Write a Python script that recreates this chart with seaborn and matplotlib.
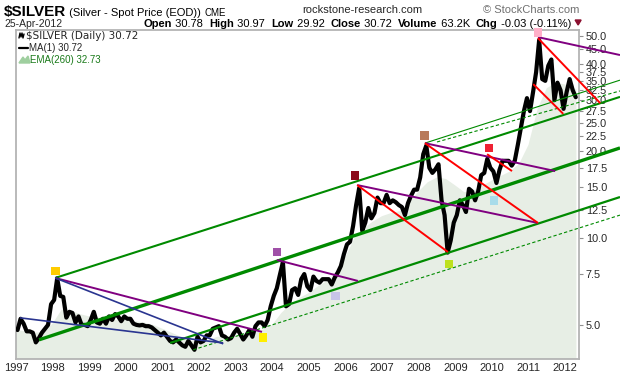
import numpy as np
import pandas as pd
import seaborn as sns
import matplotlib.pyplot as plt
from matplotlib.lines import Line2D
from matplotlib.patches import Polygon

# --- $SILVER monthly closes (Jan 1997 .. Apr 2012) ---
px_1997 = [4.80, 5.25, 5.05, 4.75, 4.75, 4.70, 4.35, 4.50, 4.70, 4.85, 5.00, 5.90]
px_1998 = [6.10, 7.25, 6.30, 6.25, 5.30, 5.55, 5.50, 5.10, 5.35, 5.00, 5.00, 4.95]
px_1999 = [5.20, 5.55, 5.10, 5.05, 5.25, 5.05, 5.35, 5.20, 5.45, 5.35, 5.15, 5.35]
px_2000 = [5.25, 5.25, 5.05, 5.00, 4.98, 5.00, 4.95, 4.95, 4.90, 4.80, 4.70, 4.60]
px_2001 = [4.70, 4.55, 4.40, 4.35, 4.45, 4.35, 4.25, 4.20, 4.40, 4.25, 4.10, 4.55]
px_2002 = [4.35, 4.40, 4.60, 4.60, 4.85, 4.90, 4.95, 4.60, 4.55, 4.45, 4.50, 4.70]
px_2003 = [4.85, 4.65, 4.45, 4.60, 4.80, 4.55, 4.95, 5.10, 5.10, 4.95, 5.20, 5.80]
px_2004 = [6.30, 6.70, 7.45, 8.25, 5.80, 5.90, 6.60, 6.70, 6.35, 7.20, 7.50, 6.80]
px_2005 = [6.60, 7.35, 7.10, 7.00, 7.20, 7.20, 7.20, 6.90, 7.30, 7.60, 8.00, 8.80]
px_2006 = [9.50, 9.70, 11.00, 13.00, 14.90, 10.60, 11.30, 12.70, 11.70, 12.20, 13.80, 13.20]
px_2007 = [13.20, 14.10, 13.20, 13.50, 13.30, 13.00, 12.80, 12.00, 13.20, 14.00, 14.70, 14.70]
px_2008 = [16.20, 19.50, 20.90, 17.50, 16.80, 17.30, 18.00, 13.50, 12.00, 8.90, 9.80, 11.30]
px_2009 = [12.00, 13.50, 13.00, 12.30, 14.80, 14.50, 13.50, 14.50, 16.50, 16.80, 18.80, 17.50]
px_2010 = [17.00, 15.50, 17.20, 18.50, 18.50, 18.50, 17.80, 18.50, 21.00, 24.00, 27.50, 30.50]
px_2011 = [27.50, 32.00, 37.50, 48.50, 35.50, 35.00, 39.50, 41.50, 30.00, 34.50, 32.50, 28.00]
px_2012 = [32.00, 35.50, 32.50, 30.72]

# EMA(260) shaded area, read quarterly
ema_years = [1997.00, 1997.25, 1997.50, 1997.75, 1998.00, 1998.25, 1998.50, 1998.75,
             1999.00, 1999.25, 1999.50, 1999.75, 2000.00, 2000.25, 2000.50, 2000.75,
             2001.00, 2001.25, 2001.50, 2001.75, 2002.00, 2002.25, 2002.50, 2002.75,
             2003.00, 2003.25, 2003.50, 2003.75, 2004.00, 2004.25, 2004.50, 2004.75,
             2005.00, 2005.25, 2005.50, 2005.75, 2006.00, 2006.25, 2006.50, 2006.75,
             2007.00, 2007.25, 2007.50, 2007.75, 2008.00, 2008.25, 2008.50, 2008.75,
             2009.00, 2009.25, 2009.50, 2009.75, 2010.00, 2010.25, 2010.50, 2010.75,
             2011.00, 2011.25, 2011.50, 2011.75, 2012.00, 2012.31]
ema_values = [4.80, 4.75, 4.70, 4.72, 5.05, 5.65, 5.60, 5.45,
              5.35, 5.30, 5.25, 5.20, 5.20, 5.15, 5.10, 5.00,
              4.85, 4.70, 4.55, 4.40, 4.38, 4.42, 4.55, 4.58,
              4.58, 4.60, 4.68, 4.82, 5.00, 5.50, 5.90, 6.20,
              6.45, 6.80, 7.10, 7.50, 8.60, 10.00, 10.80, 11.40,
              11.90, 12.20, 12.40, 13.30, 14.50, 15.60, 16.20, 16.00,
              15.20, 14.40, 14.60, 15.20, 15.80, 16.40, 17.00, 18.10,
              21.00, 28.00, 33.00, 34.50, 34.00, 32.73]

# trend lines drawn by the analyst: (year, price) endpoints
chan_upper = [(1998.07, 7.27), (2013.50, 30.8)]
chan_mid = [(1997.63, 4.44), (2013.50, 20.5)]
chan_low = [(2001.21, 4.33), (2013.50, 13.86)]
chan_low_dash = [(2001.84, 4.10), (2013.50, 12.0)]
thin_2008 = [(2008.17, 21.3), (2013.50, 35.2)]
thin_2008_dash = [(2008.50, 21.5), (2013.50, 32.3)]

purple_lines = [
    [(1998.07, 7.27), (2003.72, 4.73)],
    [(2004.13, 8.39), (2006.34, 7.10)],
    [(2006.32, 15.25), (2011.26, 11.27)],
    [(2008.17, 21.3), (2011.73, 17.05)],
    [(2011.26, 49.6), (2013.50, 43.0)],
]
red_lines = [
    [(2006.32, 15.25), (2008.80, 8.94)],
    [(2008.17, 21.3), (2011.26, 11.27)],
    [(2009.87, 19.5), (2010.55, 17.05)],
    [(2011.26, 49.2), (2012.96, 29.3)],
    [(2011.13, 34.1), (2011.95, 26.9)],
]
blue_lines = [
    [(1997.11, 5.29), (2002.66, 4.33)],
    [(1998.07, 7.27), (2002.66, 4.30)],
]

marker_years = [1998.07, 2003.75, 2004.13, 2005.72, 2006.26, 2008.15, 2008.83, 2009.92, 2010.06, 2011.26]
marker_prices = [7.69, 4.51, 8.94, 6.30, 16.5, 22.7, 8.13, 20.5, 13.5, 51.6]
marker_colors = ['#ffcc00', '#ffee00', '#a050a8', '#c8c4e8', '#8b0a1a',
                 '#b87a5a', '#bde01e', '#ee2233', '#a8dcea', '#ffb0c8']

year_ticks = list(range(1997, 2013))
price_ticks = [5.0, 7.5, 10.0, 12.5, 15.0, 17.5, 20.0, 22.5, 25.0, 27.5,
               30.0, 32.5, 35.0, 37.5, 40.0, 45.0, 50.0]

closes = (px_1997 + px_1998 + px_1999 + px_2000 + px_2001 + px_2002 + px_2003 + px_2004
          + px_2005 + px_2006 + px_2007 + px_2008 + px_2009 + px_2010 + px_2011 + px_2012)
df = pd.DataFrame({'year': 1997 + (np.arange(len(closes)) + 0.5) / 12, 'close': closes})

sns.set_style("white")
plt.rcParams['font.family'] = ['Liberation Sans', 'DejaVu Sans']

W, H = 620, 376
fig = plt.figure(figsize=(W / 100, H / 100), dpi=100)
ax = fig.add_axes([16 / W, 1 - 359 / H, (579 - 16) / W, (359 - 30) / H])

ax.fill_between(ema_years, 1.0, ema_values, color='#e7eee5', lw=0, zorder=1)
sns.lineplot(data=df, x='year', y='close', color='black', lw=3.0, ax=ax, zorder=3)

GREEN = '#008a00'
def seg(pts, **kw):
    (x0, y0), (x1, y1) = pts
    ax.plot([x0, x1], [y0, y1], clip_on=False, solid_capstyle='butt', **kw)

seg(chan_upper, color=GREEN, lw=1.5, zorder=4)
seg(chan_mid, color=GREEN, lw=2.4, zorder=4)
seg(chan_low, color=GREEN, lw=1.6, zorder=4)
seg(chan_low_dash, color=GREEN, lw=0.8, ls=(0, (3, 2)), zorder=4)
seg(thin_2008, color=GREEN, lw=0.8, zorder=4)
seg(thin_2008_dash, color=GREEN, lw=0.8, ls=(0, (3, 2)), zorder=4)
for p in purple_lines:
    seg(p, color='#800080', lw=1.4, zorder=5)
for p in red_lines:
    seg(p, color='#ff0000', lw=1.4, zorder=5)
for p in blue_lines:
    seg(p, color='#2a3590', lw=1.2, zorder=5)

ax.scatter(marker_years, marker_prices, c=marker_colors, marker='s', s=40,
           lw=0, zorder=6, clip_on=False)

ax.set_yscale('log')
ax.set_xlim(1997.0, 2012.38)
ax.set_ylim(3.81, 52.5)
ax.set_xticks(year_ticks)
ax.set_xticklabels([str(y) for y in year_ticks], fontsize=8)
ax.set_yticks(price_ticks)
ax.set_yticklabels([f'{v:.1f}' for v in price_ticks], fontsize=7.8)
ax.yaxis.set_minor_locator(plt.NullLocator())
ax.yaxis.tick_right()
ax.tick_params(axis='y', which='major', right=True, length=3, width=0.8,
               color='#909090', pad=2)
ax.tick_params(axis='x', length=0, pad=3)
ax.set_xlabel('')
ax.set_ylabel('')
for s in ax.spines.values():
    s.set_color('#b4b4b4')
    s.set_linewidth(1.3)

# --- header ---
fig.canvas.draw()
rend = fig.canvas.get_renderer()

def run(x, y, parts, size):
    for s, bold, col, fs in parts:
        t = fig.text(x / W, 1 - y / H, s, fontsize=fs or size, color=col,
                     fontweight='bold' if bold else 'normal', va='baseline', ha='left')
        x += t.get_window_extent(renderer=rend).width
    return x

run(4, 16, [('$SILVER', True, 'black', 11),
            (' (Silver - Spot Price (EOD)) ', False, 'black', 8),
            ('CME', False, 'black', 7)], 8)
fig.text(302 / W, 1 - 13 / H, 'rockstone-research.com', fontsize=8, va='baseline')
fig.text(579 / W, 1 - 13 / H, '\u00a9 StockCharts.com', fontsize=8, va='baseline',
         ha='right', color='#707070')
fig.text(4 / W, 1 - 27 / H, '25-Apr-2012', fontsize=7.5, va='baseline')
end = run(144, 27, [('Open', True, 'black', None), (' 30.78  ', False, 'black', None),
                    ('High', True, 'black', None), (' 30.97  ', False, 'black', None),
                    ('Low', True, 'black', None), (' 29.92  ', False, 'black', None),
                    ('Close', True, 'black', None), (' 30.72  ', False, 'black', None),
                    ('Volume', True, 'black', None), (' 63.2K  ', False, 'black', None),
                    ('Chg', True, 'black', None), (' -0.03 (-0.11%)', False, 'black', None)], 8)
fig.add_artist(Polygon([[(end + 4) / W, 1 - 20 / H], [(end + 10) / W, 1 - 20 / H],
                        [(end + 7) / W, 1 - 25 / H]], closed=True, color='#8b1030',
                       transform=fig.transFigure))

# --- legend inside the plot ---
fig.add_artist(Line2D([19 / W, 20 / W, 21 / W, 22 / W, 23 / W, 24 / W],
                      [1 - 38 / H, 1 - 33 / H, 1 - 37 / H, 1 - 33 / H, 1 - 38 / H, 1 - 34 / H],
                      color='black', lw=1.0, transform=fig.transFigure))
fig.text(26 / W, 1 - 39 / H, '$SILVER (Daily) 30.72', fontsize=7.5, va='baseline',
         family=['DejaVu Sans'])
fig.add_artist(Line2D([19 / W, 28 / W], [1 - 48 / H, 1 - 48 / H], color='black', lw=1.6,
                      transform=fig.transFigure))
fig.text(29 / W, 1 - 51 / H, 'MA(1) 30.72', fontsize=7, va='baseline')
fig.add_artist(Polygon([[19 / W, 1 - 63 / H], [23 / W, 1 - 57 / H], [25 / W, 1 - 60 / H],
                        [28 / W, 1 - 56 / H], [30 / W, 1 - 63 / H]], closed=True,
                       color='#9fcf9f', transform=fig.transFigure))
fig.text(30 / W, 1 - 63 / H, 'EMA(260) 32.73', fontsize=7, va='baseline', color='#1a7a1a')

fig.savefig('out.png', dpi=100)
